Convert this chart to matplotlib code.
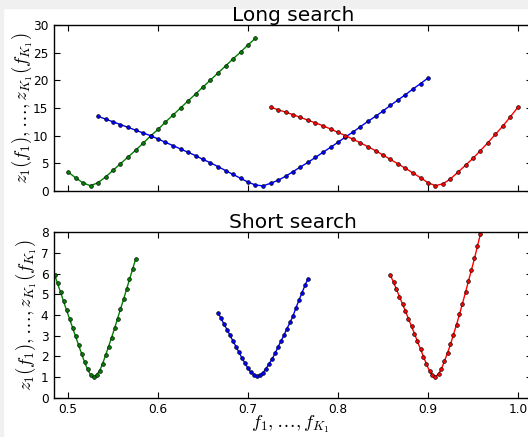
import matplotlib
matplotlib.use("Agg")
import matplotlib.pyplot as plt
from matplotlib.patches import Rectangle

plt.rcParams['mathtext.fontset'] = 'cm'
plt.rcParams['font.family'] = ['DejaVu Sans']

# ---------------- Long search ----------------
long_green_x = [0.5000, 0.5083, 0.5167, 0.5250, 0.5333, 0.5417, 0.5500, 0.5583, 0.5667,
                0.5750, 0.5833, 0.5917, 0.6000, 0.6083, 0.6167, 0.6250, 0.6333, 0.6417,
                0.6500, 0.6583, 0.6667, 0.6750, 0.6833, 0.6917, 0.7000, 0.7083]
long_green_y = [3.43, 2.41, 1.45, 0.96, 1.5, 2.53, 3.73, 4.94, 6.14, 7.35, 8.61, 9.94,
                11.14, 12.47, 13.73, 15.0, 16.27, 17.53, 18.8, 20.06, 21.33, 22.6, 23.86,
                25.1, 26.4, 27.6]

long_blue_x = [0.5333, 0.5417, 0.5500, 0.5583, 0.5667, 0.5750, 0.5833, 0.5917, 0.6000,
               0.6083, 0.6167, 0.6250, 0.6333, 0.6417, 0.6500, 0.6583, 0.6667, 0.6750,
               0.6833, 0.6917, 0.7000, 0.7083, 0.7167, 0.7250, 0.7333, 0.7417, 0.7500,
               0.7583, 0.7667, 0.7750, 0.7833, 0.7917, 0.8000, 0.8083, 0.8167, 0.8250,
               0.8333, 0.8417, 0.8500, 0.8583, 0.8667, 0.8750, 0.8833, 0.8917, 0.9000]
long_blue_y = [13.5, 13.0, 12.5, 12.0, 11.5, 11.0, 10.5, 10.0, 9.4, 8.8, 8.2, 7.6, 7.0,
               6.4, 5.7, 5.1, 4.4, 3.7, 3.0, 2.3, 1.6, 1.08, 0.93, 1.39, 1.93, 2.65, 3.5,
               4.34, 5.18, 6.08, 6.99, 7.89, 8.8, 9.76, 10.66, 11.63, 12.59, 13.49, 14.46,
               15.48, 16.45, 17.41, 18.43, 19.4, 20.42]

long_red_x = [0.7250, 0.7333, 0.7417, 0.7500, 0.7583, 0.7667, 0.7750, 0.7833, 0.7917,
              0.8000, 0.8083, 0.8167, 0.8250, 0.8333, 0.8417, 0.8500, 0.8583, 0.8667,
              0.8750, 0.8833, 0.8917, 0.9000, 0.9083, 0.9167, 0.9250, 0.9333, 0.9417,
              0.9500, 0.9583, 0.9667, 0.9750, 0.9833, 0.9917, 1.0000]
long_red_y = [15.15, 14.7, 14.25, 13.8, 13.3, 12.8, 12.3, 11.8, 11.2, 10.6, 10.0, 9.35,
              8.7, 8.0, 7.3, 6.5, 5.7, 4.9, 4.1, 3.25, 2.4, 1.5, 0.97, 1.3, 2.2, 3.4,
              4.65, 5.9, 7.3, 8.75, 10.25, 11.75, 13.45, 15.15]

# ---------------- Short search ----------------
short_green_x = [0.4850, 0.4883, 0.4917, 0.4950, 0.4983, 0.5017, 0.5050, 0.5083, 0.5117,
                 0.5150, 0.5183, 0.5217, 0.5250, 0.5283, 0.5317, 0.5350, 0.5383, 0.5417,
                 0.5450, 0.5483, 0.5517, 0.5550, 0.5583, 0.5617, 0.5650, 0.5683, 0.5717,
                 0.5750]
short_green_y = [5.95, 5.53, 5.1, 4.66, 4.24, 3.81, 3.39, 2.97, 2.55, 2.13, 1.73, 1.37,
                 1.11, 0.98, 1.10, 1.29, 1.63, 2.05, 2.47, 2.9, 3.35, 3.82, 4.29, 4.76,
                 5.24, 5.72, 6.21, 6.69]

short_blue_x = [0.6667, 0.6700, 0.6733, 0.6767, 0.6800, 0.6833, 0.6867, 0.6900, 0.6933,
                0.6967, 0.7000, 0.7033, 0.7067, 0.7100, 0.7133, 0.7167, 0.7200, 0.7233,
                0.7267, 0.7300, 0.7333, 0.7367, 0.7400, 0.7433, 0.7467, 0.7500, 0.7533,
                0.7567, 0.7600, 0.7633, 0.7667]
short_blue_y = [4.10, 3.84, 3.56, 3.29, 3.02, 2.74, 2.47, 2.19, 1.92, 1.66, 1.42, 1.23,
                1.10, 1.03, 1.10, 1.21, 1.40, 1.63, 1.87, 2.14, 2.45, 2.74, 3.03, 3.34,
                3.64, 3.95, 4.35, 4.72, 5.08, 5.43, 5.76]

short_red_x = [0.8583, 0.8617, 0.8650, 0.8683, 0.8717, 0.8750, 0.8783, 0.8817, 0.8850,
               0.8883, 0.8917, 0.8950, 0.8983, 0.9017, 0.9050, 0.9083, 0.9117, 0.9150,
               0.9183, 0.9217, 0.9250, 0.9283, 0.9317, 0.9350, 0.9383, 0.9417, 0.9450,
               0.9483, 0.9517, 0.9550, 0.9583]
short_red_y = [5.92, 5.58, 5.24, 4.89, 4.53, 4.18, 3.82, 3.45, 3.10, 2.72, 2.35, 1.98,
               1.63, 1.29, 1.08, 1.02, 1.15, 1.40, 1.77, 2.16, 2.58, 3.05, 3.53, 4.03,
               4.55, 5.10, 5.64, 6.18, 6.74, 7.34, 7.92]

colors = ['#008000', '#0000ff', '#ff0000']
x_ticks = [0.5, 0.6, 0.7, 0.8, 0.9, 1.0]
x_tick_labels = ['0.5', '0.6', '0.7', '0.8', '0.9', '1.0']
long_y_ticks = [0, 5, 10, 15, 20, 25, 30]
short_y_ticks = [0, 1, 2, 3, 4, 5, 6, 7, 8]
ylab = r'$z_1(f_1),\ldots,z_{K_1}(f_{K_1})$'
xlab = r'$f_1,\ldots,f_{K_1}$'

W, H = 528, 437
fig = plt.figure(figsize=(W / 100, H / 100), dpi=100, facecolor='white')
fig.patches.append(Rectangle((0, 1 - 8 / H), 1, 8 / H, transform=fig.transFigure,
                             color='#f0f0f0', zorder=-10))
fig.patches.append(Rectangle((0, 0), 3 / W, 1, transform=fig.transFigure,
                             color='#f0f0f0', zorder=-10))

ax1 = fig.add_axes([54 / W, (H - 191) / H, 478 / W, 166 / H])
ax2 = fig.add_axes([54 / W, (H - 397.7) / H, 478 / W, 165.4 / H])

def style(ax):
    ax.tick_params(direction='in', top=True, right=True, length=4, width=0.8,
                   labelsize=8.7, pad=4)
    for s in ax.spines.values():
        s.set_linewidth(1.0)
    ax.set_xlim(0.4844, 1.0156)
    ax.set_xticks(x_ticks)

def draw(ax, xs, ys, c):
    ax.plot(xs, ys, '-', color=c, lw=1.0, marker='o', markersize=2.7,
            markerfacecolor=c, markeredgecolor='k', markeredgewidth=0.45)

style(ax1)
draw(ax1, long_green_x, long_green_y, colors[0])
draw(ax1, long_blue_x, long_blue_y, colors[1])
draw(ax1, long_red_x, long_red_y, colors[2])
ax1.set_ylim(0, 30)
ax1.set_yticks(long_y_ticks)
ax1.set_xticklabels([])
ax1.set_title('Long search', fontsize=14.5, pad=3)
ax1.set_ylabel(ylab, fontsize=13.5)
ax1.yaxis.set_label_coords(-0.042, 0.5)

style(ax2)
draw(ax2, short_green_x, short_green_y, colors[0])
draw(ax2, short_blue_x, short_blue_y, colors[1])
draw(ax2, short_red_x, short_red_y, colors[2])
ax2.set_ylim(0, 8)
ax2.set_yticks(short_y_ticks)
ax2.set_xticklabels(x_tick_labels)
ax2.set_title('Short search', fontsize=14.5, pad=3)
ax2.set_ylabel(ylab, fontsize=13.5)
ax2.yaxis.set_label_coords(-0.034, 0.5)
ax2.set_xlabel(xlab, fontsize=13.5)
ax2.xaxis.set_label_coords(0.495, -0.095)

fig.savefig('out.png', dpi=100, facecolor=fig.get_facecolor())
